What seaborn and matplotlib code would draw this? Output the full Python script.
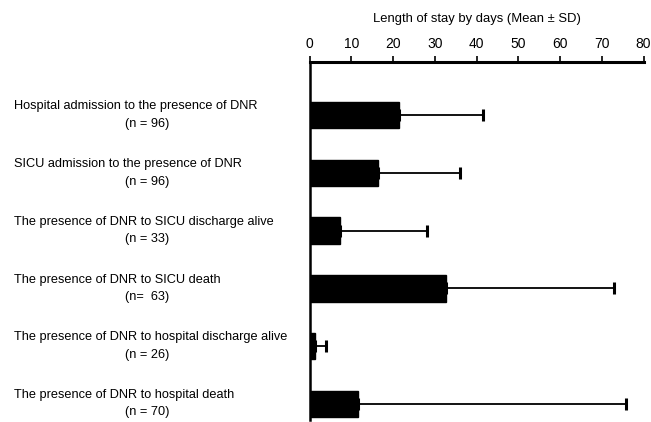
import matplotlib
matplotlib.use("Agg")
import matplotlib.pyplot as plt
import matplotlib.transforms as mtransforms
import seaborn as sns
import pandas as pd
import numpy as np

categories = [
    "Hospital admission to the presence of DNR",
    "SICU admission to the presence of DNR",
    "The presence of DNR to SICU discharge alive",
    "The presence of DNR to SICU death",
    "The presence of DNR to hospital discharge alive",
    "The presence of DNR to hospital death",
]
n_labels = ["(n = 96)", "(n = 96)", "(n = 33)", "(n=  63)", "(n = 26)", "(n = 70)"]
means = [21.5, 16.5, 7.3, 32.8, 1.3, 11.5]
sds = [20.1, 19.5, 20.8, 40.1, 2.6, 64.3]
xticks = [0, 10, 20, 30, 40, 50, 60, 70, 80]
xlabel = "Length of stay by days (Mean \u00b1 SD)"

sns.set_theme(style="white")
plt.rcParams["font.family"] = ["Liberation Sans Narrow", "Liberation Sans", "DejaVu Sans"]
plt.rcParams["text.color"] = "black"
plt.rcParams["axes.labelcolor"] = "black"
plt.rcParams["xtick.color"] = "black"

df = pd.DataFrame({"cat": categories, "mean": means, "sd": sds})

fig = plt.figure(figsize=(6.51, 4.22), dpi=100)
ax = fig.add_axes([309.5 / 651, 2 / 422, 334 / 651, 358 / 422])

sns.barplot(data=df, y="cat", x="mean", orient="h", color="black",
            width=0.46, errorbar=None, ax=ax, saturation=1)
for p in ax.patches:
    p.set_edgecolor("black")

ypos = np.arange(len(categories))
ax.errorbar(df["mean"], ypos, xerr=[np.zeros(len(sds)), df["sd"]],
            fmt="none", ecolor="black", elinewidth=1.3, capsize=4, capthick=2.2)

ax.set_xlim(0, 80)
ax.set_ylim(5.28, -0.92)
ax.set_xticks(xticks)
ax.xaxis.tick_top()
ax.xaxis.set_label_position("top")
ax.set_xlabel(xlabel, fontsize=9.4, labelpad=11, color="black")
ax.set_ylabel("")
ax.tick_params(axis="x", direction="out", length=4, width=1.2, color="black",
               labelcolor="black", labelsize=10, pad=4, top=True, bottom=False)
ax.set_yticks([])
for side in ["right", "bottom"]:
    ax.spines[side].set_visible(False)
ax.spines["top"].set_linewidth(2.2)
ax.spines["left"].set_linewidth(1.8)
ax.spines["top"].set_color("black")
ax.spines["left"].set_color("black")

trans = mtransforms.blended_transform_factory(fig.transFigure, ax.transData)
for i, (c, nl) in enumerate(zip(categories, n_labels)):
    ax.text(14 / 651, i - 0.15, c, transform=trans, ha="left", va="center",
            fontsize=9.2, color="black", clip_on=False)
    ax.text(147 / 651, i + 0.15, nl, transform=trans, ha="center", va="center",
            fontsize=9.2, color="black", clip_on=False)

fig.savefig("out.png", dpi=100)
